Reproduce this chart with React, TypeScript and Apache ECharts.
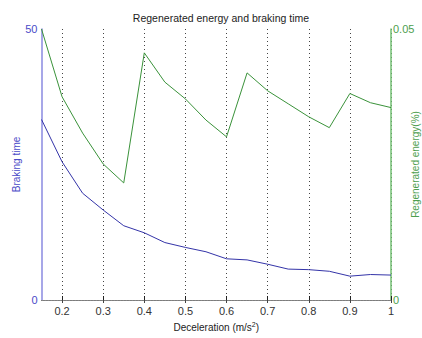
import React, { useEffect, useRef } from "react";
import * as echarts from "echarts";

const categories = ["0.15", "0.2", "0.25", "0.3", "0.35", "0.4", "0.45", "0.5", "0.55", "0.6", "0.65", "0.7", "0.75", "0.8", "0.85", "0.9", "0.95", "1"];
const brakingTime = [33.3, 25.5, 19.7, 16.6, 13.7, 12.4, 10.6, 9.7, 8.9, 7.6, 7.4, 6.6, 5.7, 5.6, 5.3, 4.4, 4.7, 4.6];
const regenEnergy = [0.05, 0.0375, 0.0308, 0.0251, 0.0216, 0.0456, 0.0402, 0.0371, 0.0332, 0.0301, 0.0419, 0.0386, 0.0362, 0.0338, 0.0318, 0.0381, 0.0364, 0.0355];

const FONT = "'Liberation Sans', Arial, sans-serif";
const BLUE_AXIS = "#8a8ae0";
const BLUE_TEXT = "#4a4ac8";
const BLUE_LINE = "#3434a8";
const GREEN_AXIS = "#72bf72";
const GREEN_TEXT = "#4e9e4e";
const GREEN_LINE = "#3a923a";

export default function App() {
  const ref = useRef<HTMLDivElement>(null);
  useEffect(() => {
    document.body.style.margin = "0";
    const chart = echarts.init(ref.current!, null, { renderer: "svg" });
    const showOdd = (i: number) => i % 2 === 1;
    chart.setOption({
      animation: false,
      backgroundColor: "#ffffff",
      textStyle: { fontFamily: FONT },
      title: {
        text: "Regenerated energy and braking time",
        left: 216,
        textAlign: "center",
        top: 7,
        textStyle: { fontSize: 10.5, fontWeight: "normal", color: "#222", fontFamily: FONT },
      },
      grid: { left: 41.5, right: 31, top: 29, bottom: 38, containLabel: false, outerBoundsMode: "none" },
      xAxis: [
        {
          type: "category",
          data: categories,
          boundaryGap: false,
          position: "bottom",
          name: "Deceleration (m/s{sup|2})",
          nameLocation: "middle",
          nameGap: 20,
          nameTextStyle: {
            fontSize: 10,
            color: "#222",
            fontFamily: FONT,
            rich: { sup: { fontSize: 7, verticalAlign: "top", padding: [0, 0, 6, 0], color: "#222" } },
          },
          axisLine: { lineStyle: { color: "#222", width: 1 } },
          axisTick: { inside: true, length: 4, interval: showOdd, lineStyle: { color: "#222" } },
          axisLabel: { interval: showOdd, fontSize: 11, color: "#333", margin: 5, fontFamily: FONT },
          splitLine: { show: true, interval: showOdd, lineStyle: { color: "#444", type: [1, 3], width: 1 } },
        },
        {
          type: "category",
          data: categories,
          boundaryGap: false,
          position: "top",
          axisLine: { lineStyle: { color: "#888", type: [2, 1], width: 1 } },
          axisTick: { inside: true, length: 3, interval: showOdd, lineStyle: { color: "#444" } },
          axisLabel: { show: false },
          splitLine: { show: false },
        },
      ],
      yAxis: [
        {
          type: "value",
          min: 0,
          max: 50,
          interval: 50,
          position: "left",
          name: "Braking time",
          nameLocation: "middle",
          nameRotate: 90,
          nameGap: 20,
          nameMoveOverlap: false,
          nameTextStyle: { fontSize: 10, color: BLUE_TEXT, fontFamily: FONT },
          axisLine: { show: true, lineStyle: { color: BLUE_AXIS, width: 1.5 } },
          axisTick: { show: false },
          axisLabel: { fontSize: 11, color: BLUE_TEXT, margin: 4, fontFamily: FONT },
          splitLine: { show: false },
        },
        {
          type: "value",
          min: 0,
          max: 0.05,
          interval: 0.05,
          position: "right",
          name: "Regenerated energy(%)",
          nameLocation: "middle",
          nameRotate: 90,
          nameGap: 19,
          nameMoveOverlap: false,
          nameTextStyle: { fontSize: 10, color: GREEN_TEXT, fontFamily: FONT },
          axisLine: { show: true, lineStyle: { color: GREEN_AXIS, width: 1.5 } },
          axisTick: { show: false },
          axisLabel: { fontSize: 11, color: GREEN_TEXT, margin: 2, fontFamily: FONT },
          splitLine: { show: false },
        },
      ],
      series: [
        {
          name: "Braking time",
          type: "line",
          xAxisIndex: 0,
          yAxisIndex: 0,
          data: brakingTime,
          showSymbol: false,
          lineStyle: { color: BLUE_LINE, width: 1 },
          itemStyle: { color: BLUE_LINE },
        },
        {
          name: "Regenerated energy",
          type: "line",
          xAxisIndex: 0,
          yAxisIndex: 1,
          data: regenEnergy,
          showSymbol: false,
          lineStyle: { color: GREEN_LINE, width: 1 },
          itemStyle: { color: GREEN_LINE },
        },
      ],
    });
    return () => chart.dispose();
  }, []);
  return <div ref={ref} style={{ width: 422, height: 338 }} />;
}
